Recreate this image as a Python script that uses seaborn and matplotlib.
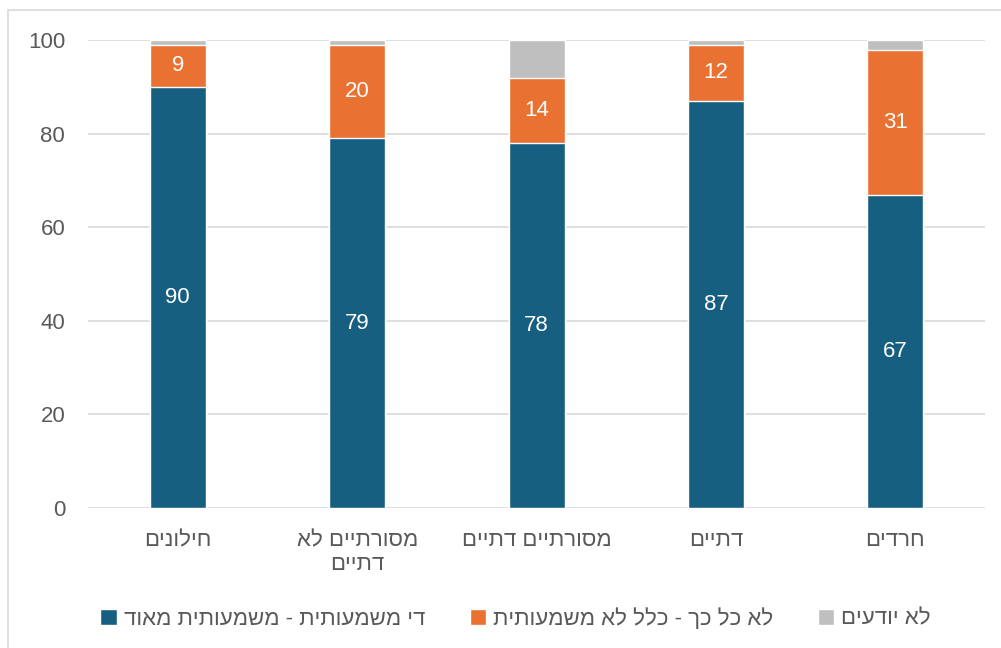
import matplotlib
matplotlib.use("Agg")
import matplotlib.pyplot as plt
import seaborn as sns
import pandas as pd
import numpy as np
from matplotlib.patches import Patch, Rectangle

def rtl(s):
    return "\n".join(line[::-1] for line in s.split("\n"))

categories = ["חילונים", "מסורתיים לא\nדתיים", "מסורתיים דתיים", "דתיים", "חרדים"]
significant = [90, 79, 78, 87, 67]
not_significant = [9, 20, 14, 12, 31]
dont_know = [1, 1, 8, 1, 2]
series_names = ["די משמעותית - משמעותית מאוד", "לא כל כך - כלל לא משמעותית", "לא יודעים"]
yticks = [0, 20, 40, 60, 80, 100]

colors = ["#175F80", "#E97132", "#BFBFBF"]

sns.set_theme(style="white")
plt.rcParams['font.family'] = ['Liberation Sans', 'DejaVu Sans']

labels = [rtl(c) for c in categories]
df = pd.DataFrame({
    "cat": labels,
    "s1": significant,
    "s2": not_significant,
    "s3": dont_know,
})
df["c2"] = df["s1"] + df["s2"]
df["c3"] = df["c2"] + df["s3"]

fig = plt.figure(figsize=(10.01, 6.48), dpi=100)
ax = fig.add_axes([0.088, 0.216, 0.896, 0.722])

w = 0.312
sns.barplot(data=df, x="cat", y="c3", color=colors[2], width=w, ax=ax, saturation=1, zorder=3)
sns.barplot(data=df, x="cat", y="c2", color=colors[1], width=w, ax=ax, saturation=1, zorder=3)
sns.barplot(data=df, x="cat", y="s1", color=colors[0], width=w, ax=ax, saturation=1, zorder=3)

fs = 16
for i in range(len(categories)):
    ax.text(i, significant[i] / 2, str(significant[i]), ha="center", va="center",
            color="white", fontsize=fs, zorder=5)
    ax.text(i, significant[i] + not_significant[i] / 2, str(not_significant[i]), ha="center",
            va="center", color="white", fontsize=fs, zorder=5)

ax.set_ylim(0, 100)
ax.set_xlim(-0.5, len(categories) - 0.5)
ax.set_yticks(yticks)
ax.set_yticklabels([str(t) for t in yticks])
ax.yaxis.grid(True, color="#D9D9D9", linewidth=1.2, zorder=0)
ax.set_axisbelow(True)
for sp in ax.spines.values():
    sp.set_visible(False)
ax.tick_params(axis="y", length=0, pad=16.5, labelsize=fs, labelcolor="#595959")
ax.tick_params(axis="x", length=0, pad=16, labelsize=fs, labelcolor="#595959")
ax.set_xlabel("")
ax.set_ylabel("")

handles = [Patch(facecolor=colors[i], label=rtl(series_names[i])) for i in range(3)]
fig.legend(handles=handles, loc="center", bbox_to_anchor=(0.515, 0.045), ncol=3,
           frameon=False, markerfirst=True, fontsize=fs, labelcolor="#595959",
           handlelength=0.75, handleheight=0.75, handletextpad=0.3, columnspacing=2.0,
           borderpad=0, borderaxespad=0)

fig.patches.append(Rectangle((8 / 1001, -0.1), 1.2, (1 - 10 / 648) + 0.1,
                             transform=fig.transFigure, fill=False,
                             edgecolor="#D9D9D9", linewidth=1.2))

fig.savefig("out.png", dpi=100)
